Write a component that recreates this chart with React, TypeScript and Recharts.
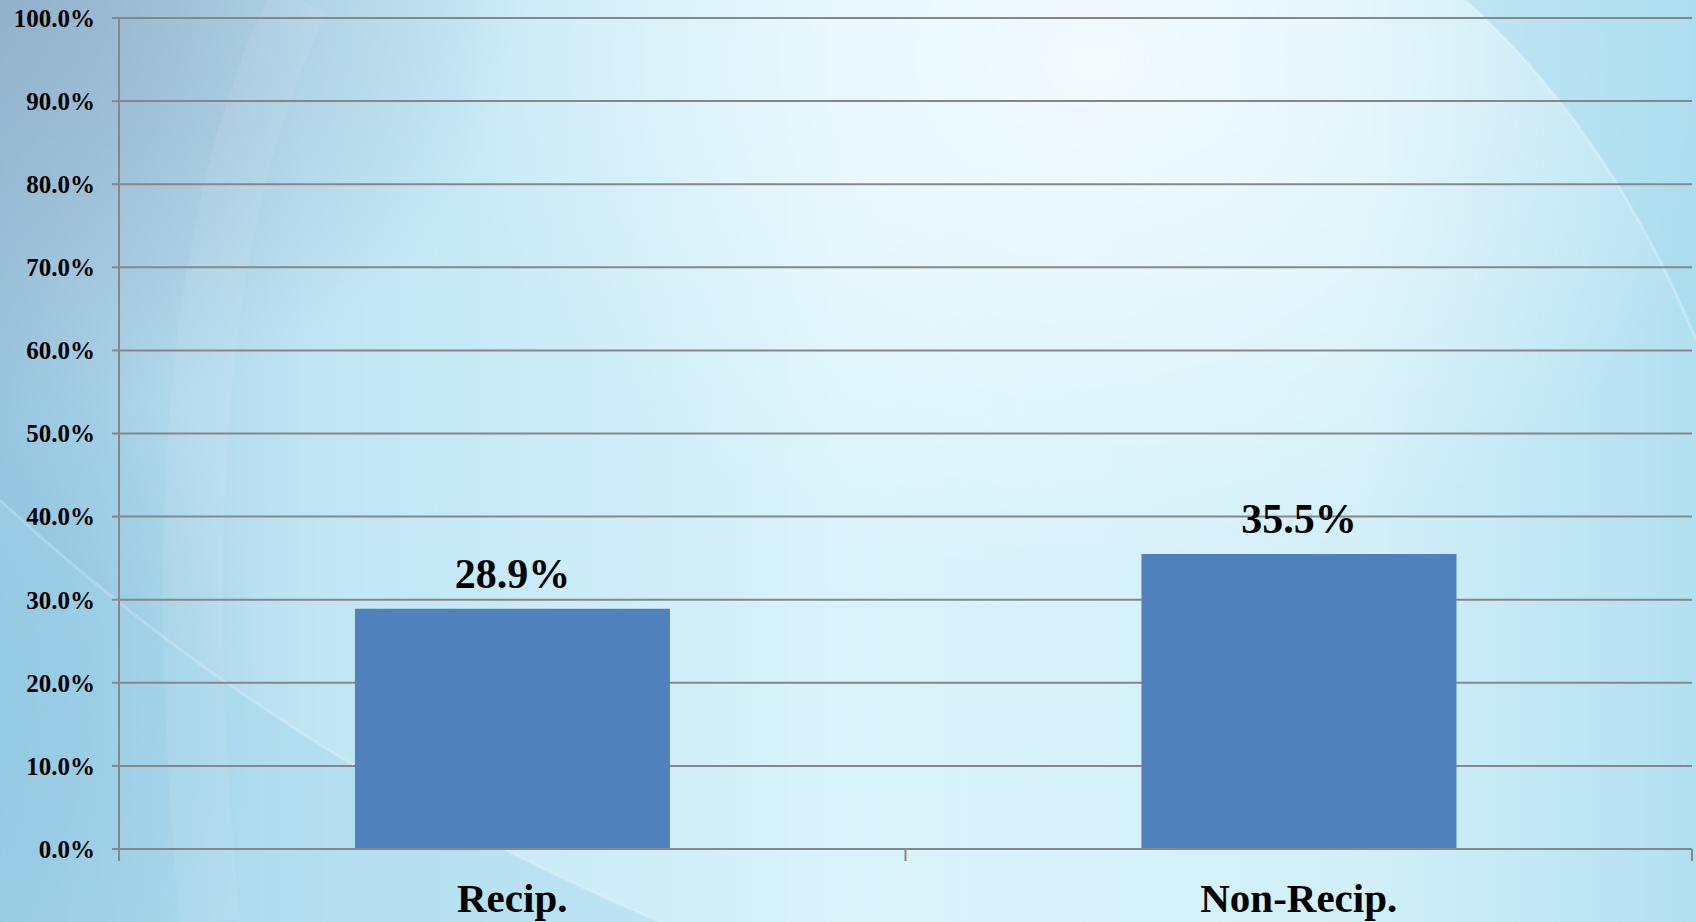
import React from "react";
import { BarChart, Bar, XAxis, YAxis, CartesianGrid, LabelList } from "recharts";

const categories = ["Recip.", "Non-Recip."];
const values = [28.9, 35.5];
const yTicks = [0, 10, 20, 30, 40, 50, 60, 70, 80, 90, 100];

const data = categories.map((c, i) => ({ name: c, value: values[i] }));

const FONT = "'Liberation Serif', 'Times New Roman', serif";
const GRAY = "#878787";

const XTick = (props: any) => {
  const { x, y, payload, width, visibleTicksCount, index } = props;
  const half = payload && payload.offset ? payload.offset : width / visibleTicksCount / 2;
  return (
    <g>
      <line x1={x - half} x2={x - half} y1={y} y2={y + 12} stroke={GRAY} strokeWidth={2} />
      {index === visibleTicksCount - 1 && (
        <line x1={x + half} x2={x + half} y1={y} y2={y + 12} stroke={GRAY} strokeWidth={2} />
      )}
      <text x={x} y={y + 63} textAnchor="middle" fontFamily={FONT} fontWeight="bold" fontSize={41} fill="#000">
        {payload.value}
      </text>
    </g>
  );
};

const Background = () => (
  <svg width={1696} height={922} style={{ position: "absolute", left: 0, top: 0 }}>
    <defs>
      <linearGradient id="base" x1="0" y1="0" x2="1" y2="0">
        <stop offset="0" stopColor="#9ec8e0" />
        <stop offset="0.18" stopColor="#bfe5f4" />
        <stop offset="0.5" stopColor="#d9f3fb" />
        <stop offset="0.8" stopColor="#d3f0f9" />
        <stop offset="1" stopColor="#b2e0f1" />
      </linearGradient>
      <radialGradient id="tl" cx="0" cy="0" r="1" gradientUnits="userSpaceOnUse" gradientTransform="translate(0 0) scale(520 420)">
        <stop offset="0" stopColor="#8fa9c4" stopOpacity="0.75" />
        <stop offset="1" stopColor="#8fa9c4" stopOpacity="0" />
      </radialGradient>
      <radialGradient id="glow" cx="0" cy="0" r="1" gradientUnits="userSpaceOnUse" gradientTransform="translate(1100 60) scale(650 520)">
        <stop offset="0" stopColor="#ffffff" stopOpacity="0.7" />
        <stop offset="1" stopColor="#ffffff" stopOpacity="0" />
      </radialGradient>
      <radialGradient id="bl" cx="0" cy="0" r="1" gradientUnits="userSpaceOnUse" gradientTransform="translate(0 700) scale(260 420)">
        <stop offset="0" stopColor="#7fbfdc" stopOpacity="0.6" />
        <stop offset="1" stopColor="#7fbfdc" stopOpacity="0" />
      </radialGradient>
    </defs>
    <rect width={1696} height={922} fill="url(#base)" />
    <rect width={1696} height={922} fill="url(#glow)" />
    <rect width={1696} height={922} fill="url(#tl)" />
    <rect width={1696} height={922} fill="url(#bl)" />
    <path d="M1465 0 Q1610 130 1696 340 L1696 0 Z" fill="#a4d9ee" opacity={0.5} />
    <path d="M1465 0 Q1610 130 1696 340" fill="none" stroke="#ffffff" strokeOpacity={0.25} strokeWidth={3} />
    <path d="M0 500 Q280 760 660 922 L0 922 Z" fill="#9fd5ea" opacity={0.4} />
    <path d="M0 500 Q280 760 660 922" fill="none" stroke="#ffffff" strokeOpacity={0.2} strokeWidth={3} />
    <path d="M300 0 Q150 300 210 922" fill="none" stroke="#ffffff" strokeOpacity={0.07} strokeWidth={60} />
  </svg>
);

export default function App() {
  return (
    <div style={{ position: "fixed", left: 0, top: 0, width: 1696, height: 922, overflow: "hidden" }}>
      <Background />
      <div style={{ position: "absolute", left: 0, top: 0 }}>
        <BarChart
          width={1696}
          height={922}
          data={data}
          margin={{ top: 18, right: 4, bottom: 0, left: 0 }}
          barCategoryGap="30%"
        >
          <CartesianGrid vertical={false} stroke={GRAY} strokeWidth={2} />
          <XAxis
            dataKey="name"
            height={73}
            axisLine={{ stroke: GRAY, strokeWidth: 2 }}
            tickLine={false}
            tickSize={0}
            tickMargin={0}
            tick={<XTick />}
            interval={0}
          />
          <YAxis
            width={119}
            domain={[0, 100]}
            ticks={yTicks}
            interval={0}
            axisLine={{ stroke: GRAY, strokeWidth: 2 }}
            tickLine={{ stroke: GRAY, strokeWidth: 2 }}
            tickSize={7}
            tickMargin={17}
            tickFormatter={(v: number) => v.toFixed(1) + "%"}
            tick={{ fontFamily: FONT, fontWeight: "bold", fontSize: 25, fill: "#000" }}
          />
          <Bar dataKey="value" fill="#4f81bd" isAnimationActive={false}>
            <LabelList
              dataKey="value"
              position="top"
              offset={21}
              formatter={(v: number) => v.toFixed(1) + "%"}
              style={{ fontFamily: FONT, fontWeight: "bold", fontSize: 42, fill: "#000" }}
            />
          </Bar>
        </BarChart>
      </div>
    </div>
  );
}
